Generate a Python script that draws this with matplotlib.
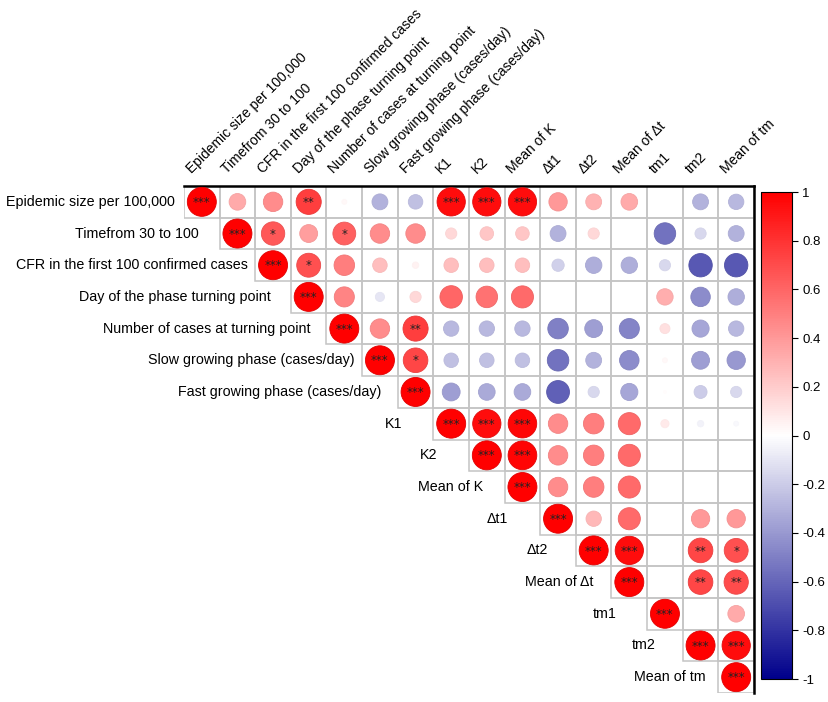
import numpy as np
import matplotlib
matplotlib.use("Agg")
import matplotlib.pyplot as plt
from matplotlib.colors import LinearSegmentedColormap, Normalize
from matplotlib.patches import Rectangle
import matplotlib.cm as cm

plt.rcParams['font.family'] = ['Liberation Sans', 'DejaVu Sans']

# variable names (rows and columns)
labels = ["Epidemic size per 100,000", "Timefrom 30 to 100",
          "CFR in the first 100 confirmed cases", "Day of the phase turning point",
          "Number of cases at turning point", "Slow growing phase (cases/day)",
          "Fast growing phase (cases/day)", "K1", "K2", "Mean of K",
          "\u0394t1", "\u0394t2", "Mean of \u0394t", "tm1", "tm2", "Mean of tm"]

# upper triangle of the correlation matrix, row i starts at column i
upper = [
    [1, .33, .45, .75, .03, -.30, -.25, .95, .95, .95, .40, .30, .33, 0, -.30, -.28],
    [1, .65, .38, .62, .45, .45, .15, .22, .22, -.30, .15, 0, -.55, -.15, -.30],
    [1, .68, .50, .25, .05, .25, .25, .25, -.18, -.32, -.32, -.15, -.65, -.65],
    [1, .48, -.10, .15, .60, .55, .58, 0, 0, 0, .32, -.45, -.32],
    [1, .45, .75, -.28, -.28, -.28, -.50, -.38, -.48, .12, -.35, -.28],
    [1, .72, -.25, -.25, -.25, -.55, -.30, -.45, .03, -.38, -.40],
    [1, -.38, -.33, -.33, -.62, -.15, -.35, .01, -.20, -.15],
    [1, .95, .97, .45, .50, .58, .08, -.05, -.03],
    [1, .98, .45, .50, .58, 0, 0, 0],
    [1, .45, .50, .58, 0, 0, 0],
    [1, .28, .58, 0, .40, .40],
    [1, .95, 0, .72, .68],
    [1, 0, .72, .70],
    [1, 0, .33],
    [1, .95],
    [1],
]

# significance marks, same layout as upper
stars = [
    ["***", "", "", "**", "", "", "", "***", "***", "***", "", "", "", "", "", ""],
    ["***", "*", "", "*", "", "", "", "", "", "", "", "", "", "", ""],
    ["***", "*", "", "", "", "", "", "", "", "", "", "", "", ""],
    ["***", "", "", "", "", "", "", "", "", "", "", "", ""],
    ["***", "", "**", "", "", "", "", "", "", "", "", ""],
    ["***", "*", "", "", "", "", "", "", "", "", ""],
    ["***", "", "", "", "", "", "", "", "", ""],
    ["***", "***", "***", "", "", "", "", "", ""],
    ["***", "***", "", "", "", "", "", ""],
    ["***", "", "", "", "", "", ""],
    ["***", "", "", "", "", ""],
    ["***", "***", "", "**", "*"],
    ["***", "", "**", "**"],
    ["***", "", ""],
    ["***", "***"],
    ["***"],
]

# gap (pixels) between each row label and its diagonal cell
row_label_gap_px = [9, 21, 7, 20, 16, 7, 16, 31, 32, 21, 32, 28, 18, 30, 27, 13]

n = len(labels)
W, H = 829, 702
fig = plt.figure(figsize=(W / 100, H / 100), dpi=100)

gl, gr, gt, gb = 184, 754, 186, 693
ax = fig.add_axes([gl / W, 1 - gb / H, (gr - gl) / W, (gb - gt) / H])
ax.set_xlim(0, n)
ax.set_ylim(n, 0)
cell_w = (gr - gl) / n

cmap = LinearSegmentedColormap.from_list("bwr_corr", ["#00008B", "#FFFFFF", "#FF0000"])
norm = Normalize(-1, 1)

# grid cells
for i in range(n):
    for j in range(i, n):
        ax.add_patch(Rectangle((j, i), 1, 1, facecolor="none",
                               edgecolor="#c4c4c4", linewidth=1.1, zorder=1))

xs, ys, vals, txt = [], [], [], []
for i, row in enumerate(upper):
    for k, v in enumerate(row):
        j = i + k
        xs.append(j + 0.5)
        ys.append(i + 0.5)
        vals.append(v)
        txt.append(stars[i][k])
vals = np.array(vals)

dmax = 29 * 0.72  # diameter in points for |r| = 1
sizes = (dmax * np.sqrt(np.abs(vals))) ** 2
cols = cmap(norm(vals))
edge = cols.copy()
edge[:, :3] = edge[:, :3] * (1 - 0.12 * np.abs(vals))[:, None]
ax.scatter(xs, ys, s=sizes, c=cols, edgecolors=edge, linewidths=0.6, zorder=3)

for x, y, t in zip(xs, ys, txt):
    if t:
        ax.text(x, y + 0.02, t, ha="center", va="center", fontsize=8.5,
                family="DejaVu Sans", color="#222222", zorder=4)

# frame: top and right in black
for s in ["left", "bottom"]:
    ax.spines[s].set_visible(False)
ax.spines["top"].set_linewidth(1.8)
ax.spines["right"].set_linewidth(1.8)
ax.set_xticks([])
ax.set_yticks([])

# row labels next to diagonal
for i, lab in enumerate(labels):
    ax.text(i - row_label_gap_px[i] / cell_w, i + 0.5, lab, ha="right", va="center",
            fontsize=10.3, color="black")

# column labels, rotated
for j, lab in enumerate(labels):
    ax.text(j + 0.22, -0.38, lab, ha="left", va="baseline", rotation=45,
            rotation_mode="anchor", fontsize=10, color="black", clip_on=False)

# colorbar
cax = fig.add_axes([761 / W, 1 - 679 / H, 31 / W, (679 - 192) / H])
sm = cm.ScalarMappable(norm=norm, cmap=cmap)
cb = fig.colorbar(sm, cax=cax, ticks=np.arange(-1, 1.01, 0.2))
cb.ax.set_yticklabels(["-1", "-0.8", "-0.6", "-0.4", "-0.2", "0", "0.2", "0.4", "0.6", "0.8", "1"])
cb.ax.tick_params(labelsize=9.5, length=4, width=0.8)
cb.outline.set_linewidth(0.8)

fig.savefig("out.png", dpi=100)
